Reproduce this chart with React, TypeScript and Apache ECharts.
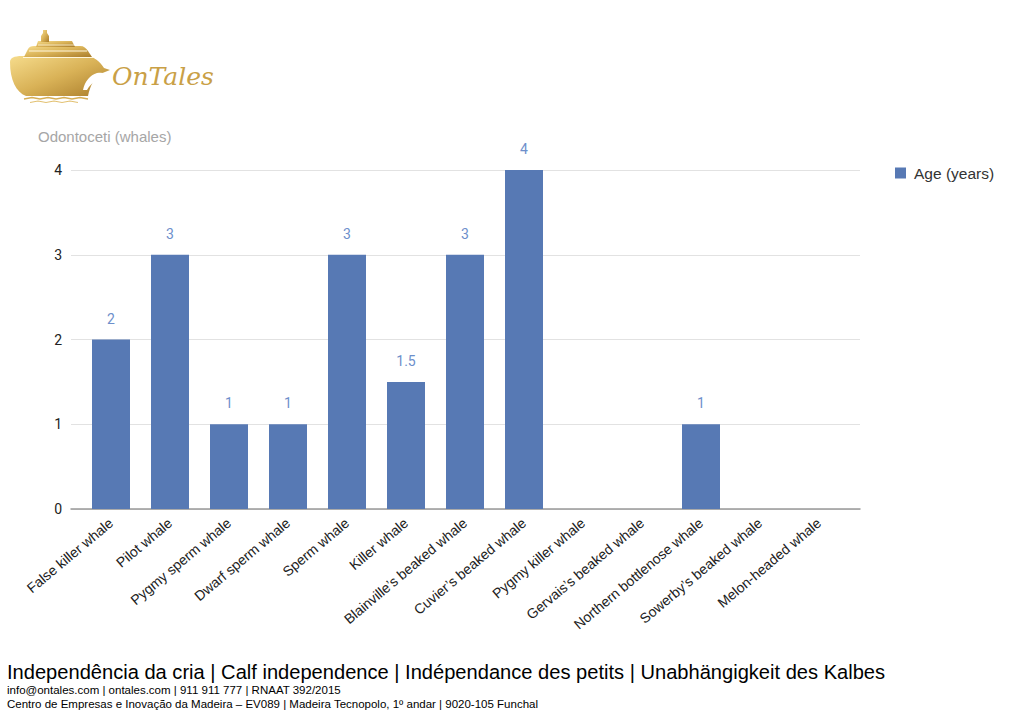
import React, { useEffect, useRef } from "react";
import * as echarts from "echarts";

const categories = [
  "False killer whale",
  "Pilot whale",
  "Pygmy sperm whale",
  "Dwarf sperm whale",
  "Sperm whale",
  "Killer whale",
  "Blainville’s beaked whale",
  "Cuvier’s beaked whale",
  "Pygmy killer whale",
  "Gervais’s beaked whale",
  "Northern bottlenose whale",
  "Sowerby’s beaked whale",
  "Melon-headed whale",
];
const ageYears = [2, 3, 1, 1, 3, 1.5, 3, 4, 0, 0, 1, 0, 0];
const yTicks = [0, 1, 2, 3, 4];

const chartTitle = "Odontoceti (whales)";
const seriesName = "Age (years)";
const footerTitle =
  "Independência da cria | Calf independence | Indépendance des petits | Unabhängigkeit des Kalbes";
const footerLine1 = "info@ontales.com | ontales.com | 911 911 777 | RNAAT 392/2015";
const footerLine2 =
  "Centro de Empresas e Inovação da Madeira – EV089 | Madeira Tecnopolo, 1º andar | 9020-105 Funchal";

const HULL =
  "M10,62 C10,58 14,56 22,56 L86,56 C94,56 100,62 104,68 L110,70 L100,74 C94,78 90,86 88,96 L26,96 C16,92 10,80 10,62 Z";
const DECK1 = "M24,57 L28,49 C29,47 31,46 34,46 L80,46 C84,46 86,48 88,51 L92,57 Z";
const DECK2 = "M36,47 L38,41 L72,41 L75,47 Z";
const FUNNEL = "M41,42 L41,36 L43,33 L43,30 L47,30 L47,33 L49,36 L49,42 Z";
const DOLPHIN = "M83,90 C85,81 90,75 97,73 C102,72 107,73 111,77 C106,76 101,77 98,79 C93,82 89,86 87,90 Z";

function makeShape(d: string) {
  return echarts.graphic.extendPath(d as any, {});
}
echarts.graphic.registerShape("shipHull", makeShape(HULL) as any);
echarts.graphic.registerShape("shipDeck1", makeShape(DECK1) as any);
echarts.graphic.registerShape("shipDeck2", makeShape(DECK2) as any);
echarts.graphic.registerShape("shipFunnel", makeShape(FUNNEL) as any);
echarts.graphic.registerShape("shipDolphin", makeShape(DOLPHIN) as any);

export default function App() {
  const ref = useRef<HTMLDivElement>(null);
  useEffect(() => {
    document.body.style.margin = "0";
    if (!ref.current) return;
    const chart = echarts.init(ref.current, null, { renderer: "svg" });
    const gold = new echarts.graphic.LinearGradient(0, 0, 1, 1, [
      { offset: 0, color: "#f6dc8c" },
      { offset: 0.5, color: "#d9b257" },
      { offset: 1, color: "#a97c2a" },
    ]);
    const option: any = {
      animation: false,
      textStyle: { fontFamily: "Liberation Sans" },
      title: {
        text: chartTitle,
        left: 38,
        top: 129,
        padding: 0,
        textStyle: { fontSize: 15, fontWeight: "normal", color: "#a6a6a6", fontFamily: "Liberation Sans" },
      },
      legend: {
        data: [seriesName],
        left: 890,
        top: 160,
        icon: "rect",
        itemWidth: 11,
        itemHeight: 11,
        itemGap: 8,
        textStyle: { fontSize: 15.5, color: "#333", fontFamily: "Liberation Sans", padding: [0, 0, 0, 3] },
      },
      grid: [
        { left: 71, right: 164, top: 170, bottom: 215 },
        { left: 81.5, right: 175.5, top: 170, bottom: 215 },
      ],
      xAxis: [
        {
          gridIndex: 0,
          type: "value",
          min: 0,
          max: 1,
          axisLine: { show: true, lineStyle: { color: "#999999", width: 1.5 } },
          axisTick: { show: false },
          axisLabel: { show: false },
          splitLine: { show: false },
        },
        {
          gridIndex: 1,
          type: "category",
          data: categories,
          axisLine: { show: false },
          axisTick: { show: false },
          axisLabel: {
            rotate: 40,
            interval: 0,
            margin: 12,
            fontSize: 14,
            color: "#222",
            fontFamily: "Liberation Sans",
          },
        },
      ],
      yAxis: [
        {
          gridIndex: 0,
          type: "value",
          min: yTicks[0],
          max: yTicks[yTicks.length - 1],
          interval: 1,
          axisLine: { show: false },
          axisTick: { show: false },
          axisLabel: { fontSize: 14, color: "#222", margin: 9, fontFamily: "Roboto" },
          splitLine: { lineStyle: { color: "#e2e2e2", width: 1 } },
        },
        {
          gridIndex: 1,
          type: "value",
          min: yTicks[0],
          max: yTicks[yTicks.length - 1],
          interval: 1,
          show: false,
          splitLine: { show: false },
        },
      ],
      series: [
        {
          name: seriesName,
          type: "bar",
          xAxisIndex: 1,
          yAxisIndex: 1,
          data: ageYears,
          barWidth: 38,
          itemStyle: { color: "#5779b4" },
          label: {
            show: true,
            position: "top",
            distance: 14,
            fontSize: 14,
            color: "#6d8fcb",
            fontFamily: "Roboto",
            formatter: (p: any) => (p.value ? String(p.value) : ""),
          },
        },
      ],
      graphic: [
        { type: "shipHull", x: 0, y: 0, style: { fill: gold } },
        { type: "shipDeck1", x: 0, y: 0, style: { fill: gold } },
        { type: "shipDeck2", x: 0, y: 0, style: { fill: gold } },
        { type: "shipFunnel", x: 0, y: 0, style: { fill: gold } },
        {
          type: "polyline",
          shape: { points: [[29, 51], [87, 51]] },
          style: { stroke: "#fff6dc", lineWidth: 1, fill: null },
        },
        {
          type: "polyline",
          shape: { points: [[23, 57.5], [93, 57.5]] },
          style: { stroke: "#fff6dc", lineWidth: 1, fill: null },
        },
        {
          type: "polyline",
          shape: { points: [[38, 45], [74, 45]] },
          style: { stroke: "#fff6dc", lineWidth: 0.8, fill: null },
        },
        { type: "shipDolphin", x: 0, y: 0, style: { fill: "#ffffff" } },
        {
          type: "polyline",
          shape: { points: [[24, 99], [32, 97.5], [40, 99], [48, 97.5], [56, 99], [64, 97.5], [72, 99], [80, 97.5], [88, 99]] },
          style: { stroke: "#d6ae55", lineWidth: 1.5, fill: null },
        },
        {
          type: "polyline",
          shape: { points: [[30, 102.5], [38, 101], [46, 102.5], [54, 101], [62, 102.5], [70, 101], [78, 102.5]] },
          style: { stroke: "#e2c172", lineWidth: 1.2, fill: null },
        },
        {
          type: "text",
          x: 112,
          y: 76,
          style: {
            text: "OnTales",
            fontSize: 25,
            fontStyle: "italic",
            fontFamily: "DejaVu Serif",
            fill: "#c9a046",
            verticalAlign: "middle",
          },
        },
        {
          type: "text",
          x: 7,
          y: 672,
          style: {
            text: footerTitle,
            fontSize: 20.1,
            fontFamily: "Liberation Sans",
            fill: "#000",
            verticalAlign: "middle",
          },
        },
        {
          type: "text",
          x: 7,
          y: 690,
          style: {
            text: footerLine1,
            fontSize: 11.5,
            fontFamily: "Liberation Sans",
            fill: "#000",
            verticalAlign: "middle",
          },
        },
        {
          type: "text",
          x: 7,
          y: 704,
          style: {
            text: footerLine2,
            fontSize: 11.5,
            fontFamily: "Liberation Sans",
            fill: "#000",
            verticalAlign: "middle",
          },
        },
      ],
    };
    chart.setOption(option);
    return () => chart.dispose();
  }, []);
  return <div ref={ref} style={{ width: 1024, height: 724 }} />;
}
